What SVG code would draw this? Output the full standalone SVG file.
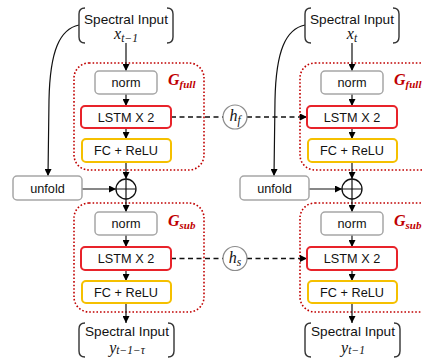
<svg xmlns="http://www.w3.org/2000/svg" width="422" height="359" viewBox="0 0 422 359">
<defs>
<marker id="ah" viewBox="0 0 8 8" refX="8" refY="4" markerWidth="7" markerHeight="7" markerUnits="userSpaceOnUse" orient="auto">
<path d="M0,0 L8,4 L0,8 z" fill="#000"/>
</marker>
<style>
.lbl{font-family:"Liberation Sans",Arial,sans-serif;font-size:12.7px;fill:#111;text-anchor:middle}
.spec{font-family:"Liberation Sans",Arial,sans-serif;font-size:13.6px;fill:#111;text-anchor:middle}
.math{font-family:"Liberation Serif","DejaVu Serif",serif;font-style:italic;font-size:16px;fill:#111;text-anchor:middle}
.sub{font-size:11.5px}
.g{font-family:"Liberation Serif","DejaVu Serif",serif;font-style:italic;font-weight:bold;font-size:16px;fill:#C00000}
.gs{font-size:11px}
.norm{fill:#fff;stroke:#A6A6A6;stroke-width:1.5}
.lstm{fill:#fff;stroke:#E8232A;stroke-width:2}
.fc{fill:#fff;stroke:#F5C000;stroke-width:2}
.grp{fill:none;stroke:#C00000;stroke-width:1.6;stroke-dasharray:1.6 2}
.br{fill:none;stroke:#333;stroke-width:1.4}
.ln{fill:none;stroke:#111;stroke-width:1.2}
.arr{fill:none;stroke:#111;stroke-width:1.2;marker-end:url(#ah)}
.dash{fill:none;stroke:#111;stroke-width:1.6;stroke-dasharray:5 3.5}
.hc{fill:#fff;stroke:#8C8C8C;stroke-width:1.2}
.plus{fill:#fff;stroke:#111;stroke-width:1.3}
.unf{fill:#fff;stroke:#A6A6A6;stroke-width:1.5}
</style>
</defs>

<!-- group frames -->
<g id="Gfull-left">
<rect class="grp" x="74" y="63" width="130" height="107" rx="15"/>
<text class="g" x="168" y="85">G<tspan class="gs" dy="3">full</tspan></text>
</g>
<g id="Gsub-left">
<rect class="grp" x="74" y="203" width="130" height="109" rx="15"/>
<text class="g" x="168" y="226">G<tspan class="gs" dy="3">sub</tspan></text>
</g>
<g id="Gfull-right">
<rect class="grp" x="300" y="63" width="135" height="107" rx="15"/>
<text class="g" x="394" y="85">G<tspan class="gs" dy="3">full</tspan></text>
</g>
<g id="Gsub-right">
<rect class="grp" x="300" y="203" width="135" height="109" rx="15"/>
<text class="g" x="394" y="226">G<tspan class="gs" dy="3">sub</tspan></text>
</g>

<g id="connectors">
<!-- left column -->
<path class="arr" d="M126 43 L126 71"/>
<path class="arr" d="M126 94 L126 106"/>
<path class="arr" d="M126 128 L126 139"/>
<path class="arr" d="M126 162 L126 179"/>
<path class="arr" d="M126 199 L126 212"/>
<path class="arr" d="M126 235 L126 247"/>
<path class="arr" d="M126 270 L126 281"/>
<path class="arr" d="M126 303 L126 323"/>
<path class="arr" d="M82 189 L116 189"/>
<path class="arr" d="M79 25 C60 29 50 50 49 100 L48 176"/>
<!-- right column -->
<path class="arr" d="M352 43 L352 71"/>
<path class="arr" d="M352 94 L352 106"/>
<path class="arr" d="M352 128 L352 139"/>
<path class="arr" d="M352 162 L352 179"/>
<path class="arr" d="M352 199 L352 212"/>
<path class="arr" d="M352 235 L352 247"/>
<path class="arr" d="M352 270 L352 281"/>
<path class="arr" d="M352 303 L352 323"/>
<path class="arr" d="M308 189 L342 189"/>
<path class="arr" d="M305 25 C286 29 276 50 275 100 L274 176"/>
<!-- hidden state links -->
<path class="dash" d="M171 117 L223 117"/>
<path class="dash" d="M247 117 L300 117"/>
<path class="arr" d="M300 117 L307 117"/>
<path class="dash" d="M171 258.5 L223 258.5"/>
<path class="dash" d="M247 258.5 L300 258.5"/>
<path class="arr" d="M300 258.5 L307 258.5"/>
</g>

<!-- left column nodes -->
<g id="in-left-top">
<path class="br" d="M85 8 Q79 8 79 14 L79 37 Q79 43 85 43"/>
<path class="br" d="M167 8 Q173 8 173 14 L173 37 Q173 43 167 43"/>
<text class="spec" x="126" y="23.5">Spectral Input</text>
<text class="math" x="126" y="39">x<tspan class="sub" dy="3">t−1</tspan></text>
</g>
<g id="norm-l1"><rect class="norm" x="95" y="71" width="62" height="23" rx="4"/><text class="lbl" x="126" y="87">norm</text></g>
<g id="lstm-l1"><rect class="lstm" x="81" y="106" width="90" height="22" rx="4"/><text class="lbl" x="126" y="121.5">LSTM X 2</text></g>
<g id="fc-l1"><rect class="fc" x="82" y="139" width="89" height="23" rx="4"/><text class="lbl" x="126" y="155">FC + ReLU</text></g>
<g id="unfold-l"><rect class="unf" x="13" y="176" width="69" height="24" rx="4"/><text class="lbl" x="47.5" y="192.5">unfold</text></g>
<g id="plus-l"><circle class="plus" cx="126" cy="189" r="10"/><path class="ln" d="M116 189 L136 189 M126 179 L126 199"/></g>
<g id="norm-l2"><rect class="norm" x="95" y="212" width="62" height="23" rx="4"/><text class="lbl" x="126" y="228">norm</text></g>
<g id="lstm-l2"><rect class="lstm" x="81" y="247" width="90" height="23" rx="4"/><text class="lbl" x="126" y="263">LSTM X 2</text></g>
<g id="fc-l2"><rect class="fc" x="82" y="281" width="89" height="22" rx="4"/><text class="lbl" x="126" y="296.5">FC + ReLU</text></g>
<g id="out-left">
<path class="br" d="M85 323 Q79 323 79 329 L79 351 Q79 357 85 357"/>
<path class="br" d="M168 323 Q174 323 174 329 L174 351 Q174 357 168 357"/>
<text class="spec" x="127" y="336">Spectral Input</text>
<text class="math" x="127" y="352.5">y<tspan class="sub" dy="1.5">t−1−τ</tspan></text>
</g>

<!-- right column nodes -->
<g id="in-right-top">
<path class="br" d="M311 8 Q305 8 305 14 L305 37 Q305 43 311 43"/>
<path class="br" d="M393 8 Q399 8 399 14 L399 37 Q399 43 393 43"/>
<text class="spec" x="352" y="23.5">Spectral Input</text>
<text class="math" x="352" y="39">x<tspan class="sub" dy="3">t</tspan></text>
</g>
<g id="norm-r1"><rect class="norm" x="321" y="71" width="62" height="23" rx="4"/><text class="lbl" x="352" y="87">norm</text></g>
<g id="lstm-r1"><rect class="lstm" x="307" y="106" width="90" height="22" rx="4"/><text class="lbl" x="352" y="121.5">LSTM X 2</text></g>
<g id="fc-r1"><rect class="fc" x="308" y="139" width="89" height="23" rx="4"/><text class="lbl" x="352" y="155">FC + ReLU</text></g>
<g id="unfold-r"><rect class="unf" x="240" y="176" width="69" height="24" rx="4"/><text class="lbl" x="274.5" y="192.5">unfold</text></g>
<g id="plus-r"><circle class="plus" cx="352" cy="189" r="10"/><path class="ln" d="M342 189 L362 189 M352 179 L352 199"/></g>
<g id="norm-r2"><rect class="norm" x="321" y="212" width="62" height="23" rx="4"/><text class="lbl" x="352" y="228">norm</text></g>
<g id="lstm-r2"><rect class="lstm" x="307" y="247" width="90" height="23" rx="4"/><text class="lbl" x="352" y="263">LSTM X 2</text></g>
<g id="fc-r2"><rect class="fc" x="308" y="281" width="89" height="22" rx="4"/><text class="lbl" x="352" y="296.5">FC + ReLU</text></g>
<g id="out-right">
<path class="br" d="M311 323 Q305 323 305 329 L305 351 Q305 357 311 357"/>
<path class="br" d="M394 323 Q400 323 400 329 L400 351 Q400 357 394 357"/>
<text class="spec" x="353" y="336">Spectral Input</text>
<text class="math" x="353" y="352.5">y<tspan class="sub" dy="1.5">t−1</tspan></text>
</g>

<!-- hidden states -->
<g id="hf"><circle class="hc" cx="235" cy="117" r="12"/><text class="math" x="235" y="121">h<tspan class="sub" dy="3">f</tspan></text></g>
<g id="hs"><circle class="hc" cx="235" cy="258.5" r="12"/><text class="math" x="235" y="262.5">h<tspan class="sub" dy="3">s</tspan></text></g>
</svg>
